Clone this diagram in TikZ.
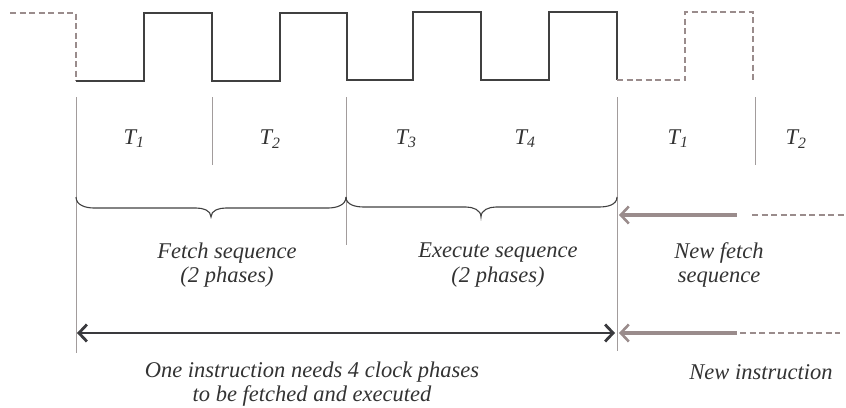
\documentclass[tikz,border=0pt]{standalone}
\usepackage{fontspec}
\setmainfont{Liberation Serif}
\usetikzlibrary{arrows.meta}
\definecolor{wave}{HTML}{404040}
\definecolor{ghost}{HTML}{9A8C8C}
\definecolor{guide}{HTML}{A29C9C}
\definecolor{span}{HTML}{3A3A3E}
\begin{document}
\begin{tikzpicture}[x=1pt,y=-1pt,
  clock/.style={draw=wave,line width=1.3pt},
  ghostclock/.style={draw=ghost,line width=2pt,dash pattern=on 6pt off 3.5pt},
  guideline/.style={draw=guide,line width=1pt},
  bracepath/.style={draw=wave,line width=1.1pt},
  label/.style={font=\fontsize{22.5}{24.5}\selectfont\itshape,align=center,text=black!80,inner sep=0pt},
  tip/.style={Straight Barb[length=8pt,width=17pt,line width=2.4pt]},
  spanarrow/.style={draw=span,line width=2.8pt,{Straight Barb[length=8pt,width=17pt]}-{Straight Barb[length=8pt,width=17pt]}},
  backarrow/.style={draw=ghost,line width=3.4pt,{Straight Barb[length=8pt,width=17pt,line width=2.6pt]}-},
  ghostline/.style={draw=ghost,line width=2pt,dash pattern=on 6pt off 3.5pt}]
\useasboundingbox (0,0) rectangle (846,407);

% clock waveform: leading and trailing cycles dashed
\draw[ghostclock] (10,13) -- (76,13) -- (76,81);
\draw[clock] (76,81) -- (144,81) -- (144,13) -- (212,13) -- (212,81) -- (280,81)
  -- (280,13) -- (347,13) -- (347,80) -- (413,80) -- (413,12) -- (481,12)
  -- (481,80) -- (549,80) -- (549,12) -- (617,12) -- (617,80);
\draw[ghostclock] (617,80) -- (685,80) -- (685,12) -- (753,12) -- (753,80);

% phase guide lines
\coordinate (g0t) at (76,97);   \coordinate (g0b) at (76,353);
\coordinate (g1t) at (212,97);  \coordinate (g1b) at (212,165);
\coordinate (g2t) at (346,97);  \coordinate (g2b) at (346,245);
\coordinate (g3t) at (617,97);  \coordinate (g3b) at (617,351);
\coordinate (g4t) at (755,97);  \coordinate (g4b) at (755,165);
\foreach \g in {0,...,4} \draw[guideline] (g\g t) -- (g\g b);

% phase labels
\node[label] (t1) at (134,139) {T\textsubscript{1}};
\node[label] (t2) at (270,139) {T\textsubscript{2}};
\node[label] (t3) at (406,139) {T\textsubscript{3}};
\node[label] (t4) at (525,139) {T\textsubscript{4}};
\node[label] (t5) at (678,139) {T\textsubscript{1}};
\node[label] (t6) at (796,139) {T\textsubscript{2}};

% braces over the fetch and execute phases
\draw[bracepath] (76,197) to[out=-90,in=180] (94,208) -- (196,208)
  to[out=0,in=90] (211,217) to[out=90,in=180] (226,208) -- (328,208)
  to[out=0,in=-90] (346,197);
\draw[bracepath] (346,197) to[out=-90,in=180] (364,207) -- (466,207)
  to[out=0,in=90] (481,217) to[out=90,in=180] (496,207) -- (599,207)
  to[out=0,in=-90] (617,197);

\node[label] (fetch) at (227,265) {Fetch sequence\\(2 phases)};
\node[label] (exec) at (498,265) {Execute sequence\\(2 phases)};
\node[label] (newfetch) at (719,265) {New fetch\\sequence};

% next fetch sequence arrow
\coordinate (nfa) at (619,215);
\coordinate (nfb) at (737,215);
\coordinate (nfc) at (752,215);
\coordinate (nfd) at (846,215);
\draw[backarrow] (nfa) -- (nfb);
\draw[ghostline] (nfc) -- (nfd);

% instruction span
\coordinate (ia) at (77,333);
\coordinate (ib) at (615,333);
\draw[spanarrow] (ia) -- (ib);

% next instruction arrow
\coordinate (nia) at (619,333);
\coordinate (nib) at (737,333);
\coordinate (nic) at (740,333);
\coordinate (nid) at (840,333);
\draw[backarrow] (nia) -- (nib);
\draw[ghostline] (nic) -- (nid);

\node[label] (instr) at (312,384) {One instruction needs 4 clock phases\\to be fetched and executed};
\node[label] (newinstr) at (761,372) {New instruction};
\end{tikzpicture}
\end{document}
